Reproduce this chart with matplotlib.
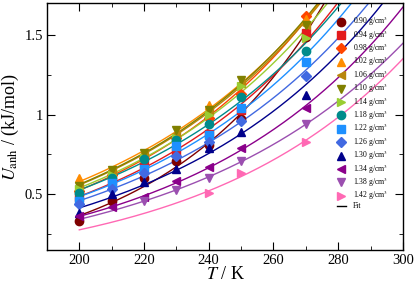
import numpy as np
import matplotlib
matplotlib.use("Agg")
from matplotlib import pyplot as plt
from matplotlib.ticker import MultipleLocator, FormatStrFormatter
from matplotlib.lines import Line2D

plt.rcParams['font.family'] = ['Liberation Serif', 'DejaVu Serif']
plt.rcParams['mathtext.fontset'] = 'stix'

temps = np.array([200, 210, 220, 230, 240, 250, 270])
densities = ['0.90', '0.94', '0.98', '1.02', '1.06', '1.10', '1.14',
             '1.18', '1.22', '1.26', '1.30', '1.34', '1.38', '1.42']
nan = np.nan
u_090 = [0.33, 0.46, 0.60, 0.71, 0.81, 0.97, 1.49]
u_094 = [0.48, 0.58, 0.69, 0.77, 0.88, 1.03, 1.51]
u_098 = [0.52, 0.62, 0.73, 0.85, 0.98, 1.13, 1.62]
u_102 = [0.60, 0.65, 0.76, 0.88, 1.06, 1.20, 1.60]
u_106 = [0.55, 0.65, 0.75, 0.88, 1.02, 1.20, 1.56]
u_110 = [0.55, 0.65, 0.76, 0.90, 1.03, 1.22, 1.56]
u_114 = [0.53, 0.62, 0.73, 0.85, 1.00, 1.18, 1.48]
u_118 = [0.51, 0.60, 0.72, 0.84, 0.94, 1.11, 1.40]
u_122 = [0.46, 0.57, 0.66, 0.80, 0.87, 1.04, 1.33]
u_126 = [0.44, 0.53, 0.63, 0.74, 0.83, 0.96, 1.24]
u_130 = [0.38, 0.50, 0.575, 0.66, 0.79, 0.89, 1.125]
u_134 = [0.36, 0.42, 0.48, 0.58, 0.67, 0.79, 1.04]
u_138 = [nan, nan, 0.46, 0.525, 0.60, 0.71, 0.94]
u_142 = [nan, nan, nan, nan, 0.51, 0.63, 0.83]
series = [u_090, u_094, u_098, u_102, u_106, u_110, u_114,
          u_118, u_122, u_126, u_130, u_134, u_138, u_142]

colors = ['#7f0000', '#e31a1c', '#ff4500', '#ff8c00', '#b8860b', '#808000', '#9acd32',
          '#008b8b', '#1e90ff', '#4169e1', '#00008b', '#8b008b', '#9b4fb0', '#ff69b4']
markers = ['o', 's', 'D', '^', '<', 'v', '>', 'o', 's', 'D', '^', '<', 'v', '>']

fig = plt.figure(figsize=(4.15, 2.83), dpi=100)
ax = fig.add_axes([0.113, 0.117, 0.858, 0.872])

t_fit = np.linspace(200, 300, 200)
handles = []
for dens, u, c, m in zip(densities, series, colors, markers):
    u = np.array(u, dtype=float)
    ok = ~np.isnan(u)
    # exponential fit: ln U linear in T
    coef = np.polyfit(temps[ok], np.log(u[ok]), 1)
    ax.plot(t_fit, np.exp(np.polyval(coef, t_fit)), color=c, lw=1.0, zorder=2)
    ms = 5 if m == 'D' else 6
    ax.plot(temps[ok], u[ok], ls='none', marker=m, color=c, ms=ms, zorder=3)
    handles.append(Line2D([], [], ls='none', marker=m, color=c, ms=ms,
                          label=dens + r' g/cm$^3$'))
handles.append(Line2D([], [], color='black', lw=1.0, label='Fit'))

ax.set_xlim(190, 300)
ax.set_ylim(0.15, 1.7)
ax.xaxis.set_major_locator(MultipleLocator(20))
ax.xaxis.set_minor_locator(MultipleLocator(10))
ax.yaxis.set_major_locator(MultipleLocator(0.5))
ax.yaxis.set_minor_locator(MultipleLocator(0.25))
ax.yaxis.set_major_formatter(FormatStrFormatter('%g'))
ax.tick_params(which='both', direction='in', top=True, right=True, labelsize=10.5, pad=3)
ax.tick_params(which='major', length=6)
ax.tick_params(which='minor', length=3)
for sp in ax.spines.values():
    sp.set_linewidth(1.0)

ax.set_xlabel(r'$T$ / K', fontsize=13, labelpad=-1)
ax.set_ylabel(r'$U_{\rm anh}$ / (kJ/mol)', fontsize=13, labelpad=2)

leg = ax.legend(handles=handles, loc='upper right', frameon=False, fontsize=5.5,
                handlelength=1.2, handletextpad=0.9, labelspacing=0.0,
                bbox_to_anchor=(0.965, 0.965), borderaxespad=0)

fig.savefig('out.png', dpi=100)
